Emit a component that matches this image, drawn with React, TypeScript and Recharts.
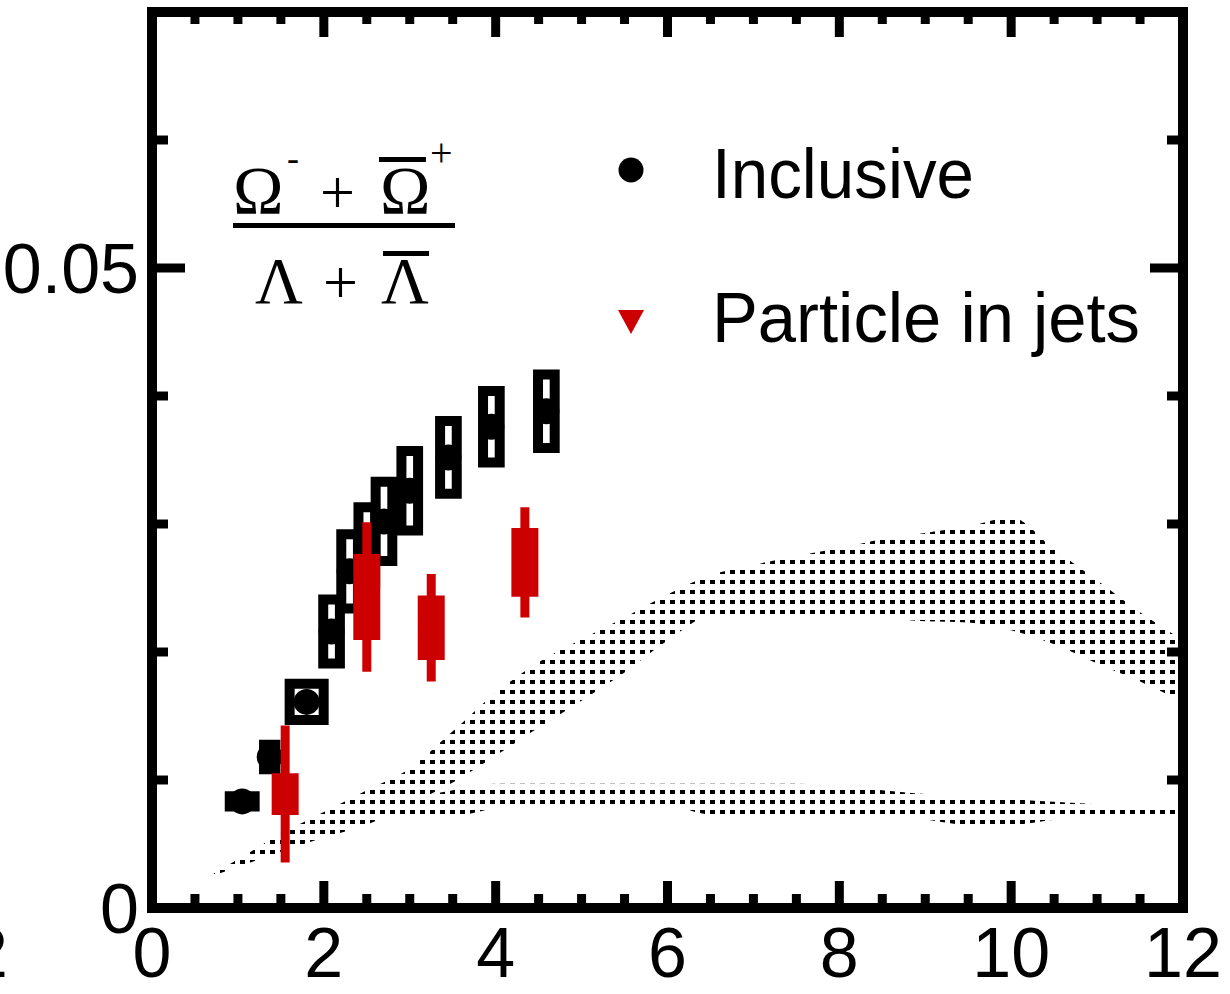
import { ComposedChart, XAxis, YAxis, Area, Scatter, ErrorBar, ReferenceArea } from 'recharts';

// chart size and plot box (page coords, wrapper sits at 0,0)
const W = 1230;
const H = 994;
const PLOT = { left: 152, top: 12, right: 1183, bottom: 908 };

const X_TICKS = [0, 0.5, 1, 1.5, 2, 2.5, 3, 3.5, 4, 4.5, 5, 5.5, 6, 6.5, 7, 7.5, 8, 8.5, 9, 9.5, 10, 10.5, 11, 11.5, 12];
const X_LABELED = [0, 2, 4, 6, 8, 10, 12];
const Y_TICKS = [0, 0.01, 0.02, 0.03, 0.04, 0.05, 0.06, 0.07];
const Y_LABELED = [0, 0.05];

// inclusive Omega/Lambda ratio, box = systematic uncertainty
const inclX = [1.05, 1.37, 1.8, 2.09, 2.3, 2.5, 2.7, 3.0, 3.45, 3.95, 4.59];
const inclY = [0.00833, 0.0118, 0.0161, 0.0216, 0.0263, 0.0283, 0.0302, 0.0326, 0.0352, 0.0376, 0.0388];
const inclSysX = [0.145, 0.066, 0.198, 0.097, 0.097, 0.097, 0.097, 0.097, 0.097, 0.097, 0.097];
const inclSysY = [0.0004, 0.00096, 0.00141, 0.0025, 0.0029, 0.003, 0.0031, 0.0031, 0.00284, 0.0028, 0.00287];

// particles in jets
const jetX = [1.55, 2.5, 3.25, 4.34];
const jetY = [0.0089, 0.0243, 0.0219, 0.027];
const jetStat = [0.00535, 0.00584, 0.0042, 0.0043];
const jetSysY = [0.00163, 0.00336, 0.00252, 0.00268];

// model bands
const bandX = [0.65, 1, 1.5, 2, 2.5, 3, 3.5, 4, 4.5, 5, 5.5, 6, 6.5, 7, 7.5, 8, 8.5, 9, 9.5, 10, 10.5, 11, 11.5, 12];
const upperHi = [0.0024, 0.0038, 0.0058, 0.0075, 0.0092, 0.0109, 0.0138, 0.0168, 0.0192, 0.021, 0.0227, 0.0245, 0.026, 0.0268, 0.0275, 0.0281, 0.0288, 0.0293, 0.0298, 0.0305, 0.028, 0.0256, 0.0231, 0.0209];
const upperLo = [0.0024, 0.0032, 0.0044, 0.0055, 0.0065, 0.0081, 0.0098, 0.0119, 0.0141, 0.0162, 0.0184, 0.0209, 0.0228, 0.0229, 0.0229, 0.0227, 0.0226, 0.0224, 0.0223, 0.0217, 0.0206, 0.0191, 0.0177, 0.0161];
const lowerHi = [null, null, null, 0.0073, 0.0078, 0.0085, 0.0092, 0.0097, 0.0097, 0.0097, 0.0097, 0.0097, 0.0097, 0.0097, 0.0097, 0.0095, 0.0092, 0.0089, 0.0088, 0.0085, 0.0083, 0.0081, 0.0079, 0.0077];
const lowerLo = [null, null, null, 0.007, 0.0072, 0.0072, 0.0072, 0.0078, 0.008, 0.008, 0.008, 0.008, 0.0073, 0.0073, 0.0073, 0.0072, 0.0071, 0.0069, 0.0065, 0.0065, 0.0069, 0.0072, 0.0072, 0.0072];

const bandData = bandX.map((x, i) => ({
  x,
  upper: [upperLo[i], upperHi[i]],
  lower: lowerHi[i] == null ? null : [lowerLo[i], lowerHi[i]],
}));
const inclData = inclX.map((x, i) => ({ x, y: inclY[i] }));
const jetData = jetX.map((x, i) => ({ x, y: jetY[i], stat: jetStat[i], sys: jetSysY[i] }));

const RED = '#cc0000';
const SANS = '"Liberation Sans", Arial, Helvetica, sans-serif';
const SERIF = '"Liberation Serif", "Times New Roman", serif';
const TICK_W = 9;

function XTick(props: any) {
  const { x, payload } = props;
  const v = payload.value;
  const major = X_LABELED.includes(v);
  const len = major ? 27 : 14;
  return (
    <g>
      <line x1={x} x2={x} y1={PLOT.bottom} y2={PLOT.bottom - len} stroke="#000" strokeWidth={TICK_W} />
      <line x1={x} x2={x} y1={PLOT.top} y2={PLOT.top + len - 2} stroke="#000" strokeWidth={TICK_W} />
      {major && (
        <text x={x} y={977} textAnchor="middle" fontSize={70} fontFamily={SANS} fill="#000">
          {v}
        </text>
      )}
    </g>
  );
}

function YTick(props: any) {
  const { y, payload } = props;
  const v = payload.value;
  const major = Y_LABELED.includes(v);
  const len = major ? 33 : 16;
  return (
    <g>
      <line x1={PLOT.left} x2={PLOT.left + len} y1={y} y2={y} stroke="#000" strokeWidth={TICK_W} />
      <line x1={PLOT.right} x2={PLOT.right - len} y1={y} y2={y} stroke="#000" strokeWidth={TICK_W} />
      {major && (
        <text x={139} y={y + 25} textAnchor="end" fontSize={70} fontFamily={SANS} fill="#000">
          {v === 0 ? '0' : String(v)}
        </text>
      )}
    </g>
  );
}

const dotShape = (p: any) => <circle cx={p.cx} cy={p.cy} r={13} fill="#000" />;
const triShape = (p: any) => (
  <polygon points={`${p.cx - 12},${p.cy - 10} ${p.cx + 12},${p.cy - 10} ${p.cx},${p.cy + 12}`} fill={RED} />
);

export default function App() {
  return (
    <div style={{ position: 'absolute', left: 0, top: 0, width: W, height: H, background: '#fff' }}>
      <ComposedChart
        width={W}
        height={H}
        data={bandData}
        margin={{ top: PLOT.top, right: W - PLOT.right, bottom: H - PLOT.bottom - 1, left: PLOT.left - 1 }}
      >
        <defs>
          <pattern id="dots" width="10" height="10" patternUnits="userSpaceOnUse">
            <rect x="0" y="0" width="5" height="4" fill="#000" />
          </pattern>
        </defs>
        <XAxis
          dataKey="x"
          type="number"
          domain={[0, 12]}
          ticks={X_TICKS}
          interval={0}
          height={1}
          axisLine={false}
          tickLine={false}
          tick={XTick}
          allowDataOverflow
        />
        <YAxis
          type="number"
          domain={[0, 0.07]}
          ticks={Y_TICKS}
          interval={0}
          width={1}
          axisLine={false}
          tickLine={false}
          tick={YTick}
          allowDataOverflow
        />
        <Area
          dataKey="upper"
          type="monotone"
          stroke="none"
          fill="url(#dots)"
          fillOpacity={1}
          dot={false}
          activeDot={false}
          isAnimationActive={false}
        />
        <Area
          dataKey="lower"
          type="monotone"
          stroke="none"
          fill="url(#dots)"
          fillOpacity={1}
          dot={false}
          activeDot={false}
          isAnimationActive={false}
        />
        {inclX.map((x, i) => (
          <ReferenceArea
            key={`ib${i}`}
            x1={x - inclSysX[i]}
            x2={x + inclSysX[i]}
            y1={inclY[i] - inclSysY[i]}
            y2={inclY[i] + inclSysY[i]}
            fill="none"
            stroke="#000"
            strokeWidth={10}
            ifOverflow="visible"
          />
        ))}
        <Scatter data={inclData} dataKey="y" shape={dotShape} isAnimationActive={false} />
        <Scatter data={jetData} dataKey="y" shape={triShape} isAnimationActive={false} zIndex={720}>
          {/* systematic box drawn as a wide bar, statistical error as a narrow bar */}
          <ErrorBar dataKey="sys" direction="y" width={0} stroke={RED} strokeWidth={27} zIndex={710} />
          <ErrorBar dataKey="stat" direction="y" width={0} stroke={RED} strokeWidth={9} zIndex={710} />
        </Scatter>
        <ReferenceArea
          x1={0}
          x2={12}
          y1={0}
          y2={0.07}
          fill="none"
          stroke="#000"
          strokeWidth={10}
          ifOverflow="visible"
        />
      </ComposedChart>

      <svg
        width={W}
        height={H}
        style={{ position: 'absolute', left: 0, top: 0, pointerEvents: 'none' }}
      >
        {/* cut-off label from the neighbouring panel */}
        <text x={8} y={977} textAnchor="end" fontSize={70} fontFamily={SANS}>12</text>

        {/* ratio label */}
        <g fontFamily={SERIF} fill="#000">
          <text x={233} y={213} fontSize={68}>Ω</text>
          <text x={287} y={170} fontSize={36}>-</text>
          <text x={320} y={213} fontSize={62}>+</text>
          <text x={380} y={213} fontSize={68}>Ω</text>
          <line x1={379} x2={426} y1={159.5} y2={159.5} stroke="#000" strokeWidth={5} />
          <text x={430} y={166} fontSize={40}>+</text>
          <line x1={233} x2={455} y1={225.5} y2={225.5} stroke="#000" strokeWidth={5} />
          <text x={255} y={303} fontSize={66}>Λ</text>
          <text x={323} y={303} fontSize={62}>+</text>
          <text x={381} y={303} fontSize={66}>Λ</text>
          <line x1={383} x2={429} y1={253.5} y2={253.5} stroke="#000" strokeWidth={5} />
        </g>

        {/* legend */}
        <circle cx={631} cy={170} r={12.5} fill="#000" />
        <text x={712} y={198} fontSize={71} fontFamily={SANS} textLength={262} lengthAdjust="spacingAndGlyphs">
          Inclusive
        </text>
        <polygon points="618,310 644,310 631,334" fill={RED} />
        <text x={712} y={342} fontSize={71} fontFamily={SANS} textLength={428} lengthAdjust="spacingAndGlyphs">
          Particle in jets
        </text>
      </svg>
    </div>
  );
}
